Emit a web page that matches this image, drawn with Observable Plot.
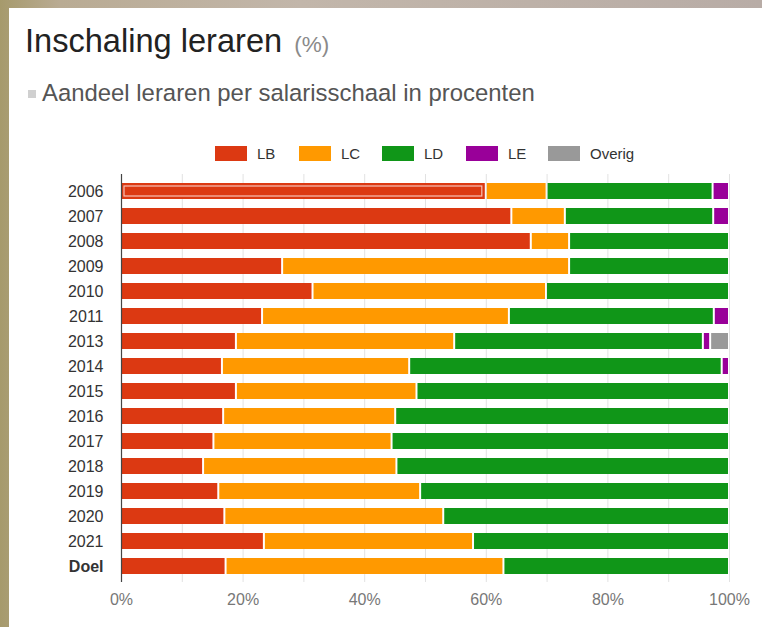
<!DOCTYPE html>
<html>
<head>
<meta charset="utf-8">
<script src="https://cdn.jsdelivr.net/npm/d3@7"></script>
<script src="https://cdn.jsdelivr.net/npm/@observablehq/plot@0.6"></script>
<style>
  html, body { margin: 0; padding: 0; }
  body { width: 762px; height: 627px; position: relative; overflow: hidden;
         background: linear-gradient(90deg, #a69a6c 0px, #b9ab93 60px, #c2b6aa 300px, #b8aca6 762px);
         font-family: "Liberation Sans", Arial, sans-serif; }
  #card { position: absolute; left: 9px; top: 8px; right: 0; bottom: 0; background: #fff; }
  #title { position: absolute; left: 25px; top: 25px; font-size: 32.6px; line-height: 32px; color: #222; white-space: nowrap; }
  #title span { font-size: 22.5px; color: #8a8a8a; margin-left: 12px; }
  #subtitle { position: absolute; left: 42px; top: 80px; font-size: 23.9px; line-height: 26px; color: #555; white-space: nowrap; }
  #subsq { position: absolute; left: 28px; top: 90px; width: 8px; height: 8px; background: #d0d0d0; }
  .lg { position: absolute; top: 145px; height: 16px; display: flex; align-items: center; font-size: 15px; color: #333; white-space: nowrap; }
  .lg i { display: inline-block; width: 32px; height: 15px; margin-right: 10px; }
  #chart { position: absolute; left: 0; top: 170px; }
</style>
</head>
<body>
<div id="card"></div>
<div id="title">Inschaling leraren<span>(%)</span></div>
<div id="subsq"></div>
<div id="subtitle">Aandeel leraren per salarisschaal in procenten</div>
<div id="legend"></div>
<div id="chart"></div>
<script>
const categories = ["2006","2007","2008","2009","2010","2011","2013","2014","2015","2016","2017","2018","2019","2020","2021","Doel"];
const seriesNames = ["LB","LC","LD","LE","Overig"];
const seriesColors = ["#dc3912","#ff9900","#109618","#990099","#999999"];
const LB     = [60.0, 64.2, 67.4, 26.5, 31.5, 23.2, 18.9, 16.6, 18.9, 16.8, 15.2, 13.5, 16.0, 17.0, 23.5, 17.2];
const LC     = [10.0,  8.8,  6.3, 47.2, 38.4, 40.6, 35.9, 30.8, 29.7, 28.3, 29.3, 31.8, 33.2, 36.0, 34.4, 45.7];
const LD     = [27.3, 24.4, 26.3, 26.3, 30.1, 33.7, 40.9, 51.4, 51.4, 54.9, 55.5, 54.7, 50.8, 47.0, 42.1, 37.1];
const LE     = [ 2.7,  2.6,  0,    0,    0,    2.5,  1.2,  1.2,  0,    0,    0,    0,    0,    0,    0,    0  ];
const Overig = [ 0,    0,    0,    0,    0,    0,    3.1,  0,    0,    0,    0,    0,    0,    0,    0,    0  ];
const xTicks = [0, 20, 40, 60, 80, 100];
const gridTicks = [10, 20, 30, 40, 50, 60, 70, 80, 90, 100];

const seriesValues = [LB, LC, LD, LE, Overig];
const rows = [];
categories.forEach((c, i) => {
  seriesNames.forEach((s, j) => {
    const v = seriesValues[j][i];
    if (v > 0) rows.push({cat: c, series: s, value: v});
  });
});

// legend
const legendX = [215, 299, 382, 466, 548];
const legend = document.getElementById("legend");
seriesNames.forEach((s, j) => {
  const d = document.createElement("div");
  d.className = "lg";
  d.style.left = legendX[j] + "px";
  d.innerHTML = `<i style="background:${seriesColors[j]}"></i>${s}`;
  legend.appendChild(d);
});

const chart = Plot.plot({
  width: 762,
  height: 455,
  marginLeft: 121,
  marginRight: 33,
  marginTop: 4,
  marginBottom: 43,
  style: {fontFamily: "'Liberation Sans', Arial, sans-serif", background: "transparent"},
  x: {domain: [0, 100], ticks: xTicks, tickFormat: d => d + "%"},
  y: {domain: categories, paddingInner: 0.36, paddingOuter: 0.18},
  color: {domain: seriesNames, range: seriesColors},
  marks: [
    Plot.ruleX(gridTicks, {stroke: "#e2e2e2", strokeWidth: 1}),
    Plot.barX(rows, Plot.stackX({y: "cat", x: "value", fill: "series", insetLeft: 1, insetRight: 1, order: null})),
    Plot.barX(rows.filter(d => d.cat === "2006" && d.series === "LB"),
      {y: "cat", x1: 0, x2: "value", fill: "none", stroke: "#f7c2b6", strokeWidth: 1.2, insetLeft: 3, insetRight: 4, insetTop: 3, insetBottom: 3}),
    Plot.ruleX([0], {stroke: "#444", strokeWidth: 1.2}),
    Plot.axisX({ticks: xTicks, tickFormat: d => d + "%", tickSize: 0, tickPadding: 11, fontSize: 16, color: "#777", label: null}),
    Plot.axisY({tickSize: 0, tickPadding: 18, fontSize: 16, color: "#333", label: null})
  ]
});
document.getElementById("chart").appendChild(chart);
d3.select(chart).selectAll("text").filter(function() { return this.textContent === "Doel"; })
  .attr("font-weight", "bold");
</script>
</body>
</html>
